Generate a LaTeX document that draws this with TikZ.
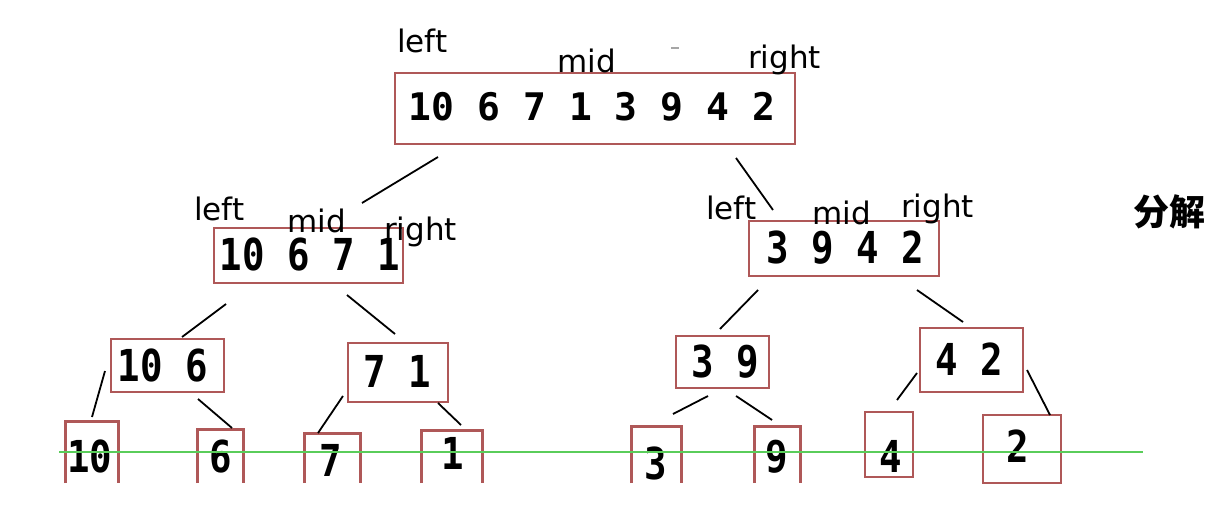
\documentclass[tikz,border=0pt]{standalone}
\usepackage{fontspec}
\setmainfont{DejaVu Sans}
\newfontfamily\digfont{DejaVu Sans Mono}
\newfontfamily\cjkfont{Noto Sans CJK SC}
\definecolor{boxred}{RGB}{175,88,88}
\definecolor{gline}{RGB}{90,205,90}
\begin{document}
\begin{tikzpicture}[x=1pt,y=-1pt,
  bx/.style={draw=boxred,line width=2.8pt,inner sep=0pt,fill=none},
  obx/.style={inner sep=0pt},
  topdig/.style={font=\digfont\bfseries\fontsize{38}{38}\selectfont},
  dig/.style={font=\digfont\bfseries\fontsize{44}{44}\selectfont,xscale=0.85},
  lbl/.style={font=\fontsize{31}{31}\selectfont,inner sep=0pt,anchor=base west},
  conn/.style={line width=1.8pt,black}]
\useasboundingbox (0,0) rectangle (1224,508);
% level 1
\node[bx,minimum width=400pt,minimum height=71pt] (top) at (595,108.5) {};
\node[topdig,inner sep=0pt] (toptxt) at (592,107) {10 6 7 1 3 9 4 2};
\node[lbl] (tl) at (397,53) {left};
\node[lbl] (tm) at (557,73) {mid};
\node[lbl] (tr) at (748,69) {right};
\draw[line width=1.5pt,gray!70] (671,48) -- (679,48);
% level 2
\node[bx,minimum width=189pt,minimum height=55pt] (la) at (308.5,255.5) {};
\node[dig,inner sep=0pt] (latxt) at (310,255) {10 6 7 1};
\node[bx,minimum width=190pt,minimum height=55pt] (lb) at (844,248.5) {};
\node[dig,inner sep=0pt] (lbtxt) at (845,248) {3 9 4 2};
\node[lbl] (lal) at (194,220) {left};
\node[lbl] (lam) at (287,233) {mid};
\node[lbl] (lar) at (384,240) {right};
\node[lbl] (lbl) at (706,219) {left};
\node[lbl] (lbm) at (812,224) {mid};
\node[lbl] (lbr) at (901,218) {right};
\node[font=\cjkfont\bfseries\fontsize{36}{36}\selectfont,inner sep=0pt] (fj) at (1169,212) {分解};
% level 3
\node[bx,minimum width=113pt,minimum height=53pt] (m1) at (167.5,365.5) {};
\node[dig,inner sep=0pt] (m1t) at (163,366) {10 6};
\node[bx,minimum width=100pt,minimum height=59pt] (m2) at (398,372.5) {};
\node[dig,inner sep=0pt] (m2t) at (397.5,371) {7 1};
\node[bx,minimum width=93pt,minimum height=52pt] (m3) at (722.5,362) {};
\node[dig,inner sep=0pt] (m3t) at (725,362) {3 9};
\node[bx,minimum width=103pt,minimum height=64pt] (m4) at (971.5,360) {};
\node[dig,inner sep=0pt] (m4t) at (969,359) {4 2};
% level 4 (open at the bottom edge)
\node[obx,minimum width=52pt,minimum height=61pt] (b1) at (92,452.5) {};
\node[obx,minimum width=45pt,minimum height=53pt] (b2) at (220.5,456.5) {};
\node[obx,minimum width=55pt,minimum height=49pt] (b3) at (332.5,458.5) {};
\node[obx,minimum width=60pt,minimum height=52pt] (b4) at (452,457) {};
\node[obx,minimum width=49pt,minimum height=56pt] (b5) at (656.5,455) {};
\node[obx,minimum width=45pt,minimum height=56pt] (b6) at (777.5,455) {};
\node[bx,minimum width=48pt,minimum height=65pt] (b7) at (889,444.5) {};
\node[bx,minimum width=78pt,minimum height=68pt] (b8) at (1022,449) {};
\foreach \b in {b1,b2,b3,b4,b5,b6}{
  \draw[draw=boxred,line width=2.8pt] (\b.south west) -- (\b.north west) -- (\b.north east) -- (\b.south east);
}
\node[dig,inner sep=0pt] (d1) at (90,456) {10};
\node[dig,inner sep=0pt] (d2) at (221,457) {6};
\node[dig,inner sep=0pt] (d3) at (331,460) {7};
\node[dig,inner sep=0pt] (d4) at (453,453) {1};
\node[dig,inner sep=0pt] (d5) at (656,463) {3};
\node[dig,inner sep=0pt] (d6) at (777,457) {9};
\node[dig,inner sep=0pt] (d7) at (891,456) {4};
\node[dig,inner sep=0pt] (d8) at (1018,446) {2};
% green line
\coordinate (g1) at (59,452);
\coordinate (g2) at (1143,452);
\draw[gline,line width=2.4pt] (g1) -- (g2);
% connectors
\coordinate (c1a) at (438,157); \coordinate (c1b) at (362,203);
\coordinate (c2a) at (736,158); \coordinate (c2b) at (773,210);
\coordinate (c3a) at (226,304); \coordinate (c3b) at (182,337);
\coordinate (c4a) at (347,295); \coordinate (c4b) at (395,334);
\coordinate (c5a) at (758,290); \coordinate (c5b) at (720,329);
\coordinate (c6a) at (917,290); \coordinate (c6b) at (963,322);
\coordinate (c7a) at (105,371); \coordinate (c7b) at (92,417);
\coordinate (c8a) at (198,399); \coordinate (c8b) at (232,428);
\coordinate (c9a) at (343,396); \coordinate (c9b) at (318,433);
\coordinate (c10a) at (438,403); \coordinate (c10b) at (461,425);
\coordinate (c11a) at (708,396); \coordinate (c11b) at (673,414);
\coordinate (c12a) at (736,396); \coordinate (c12b) at (772,420);
\coordinate (c13a) at (917,373); \coordinate (c13b) at (897,400);
\coordinate (c14a) at (1027,370); \coordinate (c14b) at (1050,415);
\foreach \i in {1,...,14}{ \draw[conn] (c\i a) -- (c\i b); }
\end{tikzpicture}
\end{document}
